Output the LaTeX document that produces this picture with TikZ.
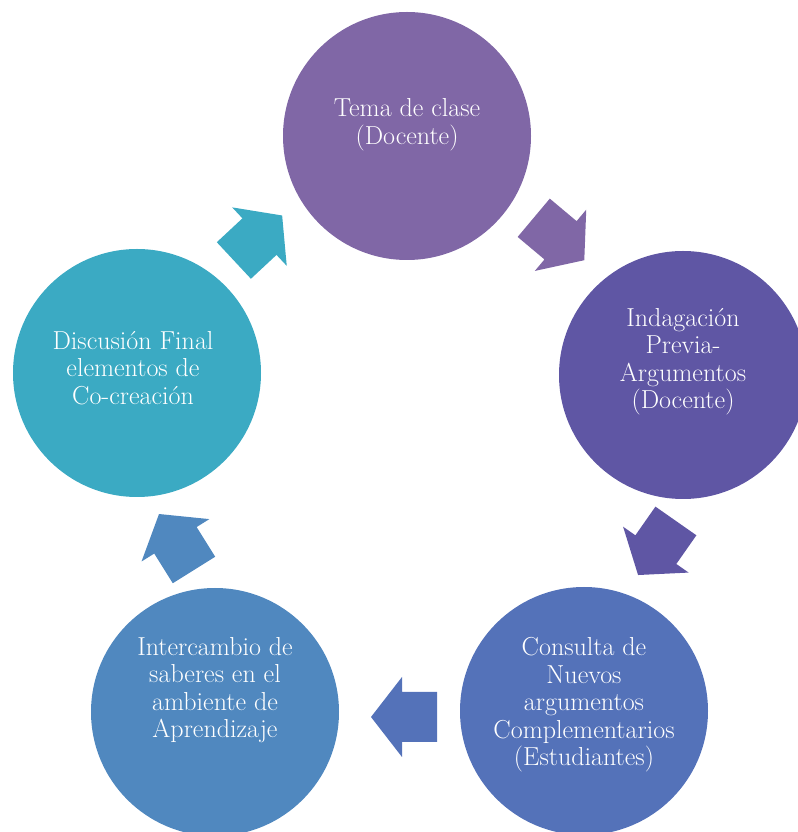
\documentclass[tikz,border=0pt]{standalone}

\definecolor{tema}{RGB}{128,103,166}
\definecolor{indaga}{RGB}{95,86,164}
\definecolor{consulta}{RGB}{84,114,185}
\definecolor{inter}{RGB}{80,136,191}
\definecolor{discu}{RGB}{59,170,195}

\tikzset{
  etapa/.style={circle, fill=#1, minimum size=6.2cm, inner sep=0pt},
  texto/.style={text=white, align=center, font=\fontsize{18.5}{19.6}\selectfont},
  flecha/.pic={
    \fill[pic actions] (-0.825,-0.625) -- (0.05,-0.625) -- (0.05,-1) -- (0.825,0)
      -- (0.05,1) -- (0.05,0.625) -- (-0.825,0.625) -- cycle;
  }
}

\begin{document}
\begin{tikzpicture}
\useasboundingbox (0,0) rectangle (19.95,20.8);

\node[etapa=tema]     (T) at (10.175,17.4)  {};
\node[etapa=indaga]   (I) at (17.075,11.425) {};
\node[etapa=consulta] (C) at (14.6,3.025)   {};
\node[etapa=inter]    (A) at (5.375,3.0)    {};
\node[etapa=discu]    (D) at (3.425,11.475) {};

\node[texto] (Ttxt) at ([yshift=0.275cm]T.center) {Tema de clase\\(Docente)};
\node[texto] (Itxt) at ([yshift=0.33cm]I.center) {Indagación\\Previa-\\Argumentos\\(Docente)};
\node[texto] (Ctxt) at ([yshift=0.15cm]C.center) {Consulta de\\Nuevos\\argumentos\\Complementarios\\(Estudiantes)};
\node[texto] (Atxt) at ([yshift=0.55cm]A.center) {Intercambio de\\saberes en el\\ambiente de\\Aprendizaje};
\node[texto] (Dtxt) at ([xshift=-0.1cm,yshift=0.125cm]D.center) {Discusión Final\\elementos de\\Co-creación};

% flechas entre etapas
\pic[fill=tema, rotate=-40]      (TI) at (13.975,14.825) {flecha};
\pic[fill=indaga, rotate=-125]   (IC) at (16.425,7.1)    {flecha};
\pic[fill=consulta, rotate=180]  (CA) at (10.1,2.875)    {flecha};
\pic[fill=inter, rotate=122]     (AD) at (4.4125,7.25)   {flecha};
\pic[fill=discu, rotate=43]      (DT) at (6.45,14.85)    {flecha};
\end{tikzpicture}
\end{document}
